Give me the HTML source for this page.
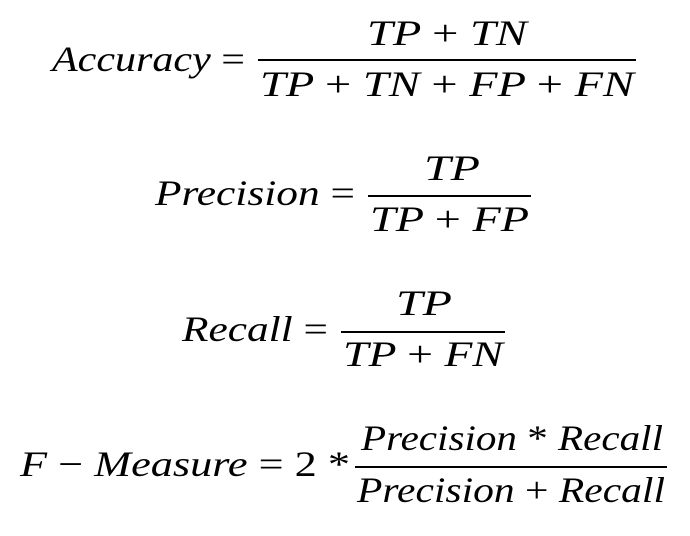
<!DOCTYPE html>
<html><head><meta charset="utf-8"><style>
html,body{margin:0;padding:0;background:#fff;width:690px;height:536px;overflow:hidden}
svg text{font-family:"Liberation Serif","Times New Roman","DejaVu Serif","Noto Serif CJK SC",serif;font-size:36px;font-style:italic;fill:#000}
.n{font-style:normal}
</style></head><body>
<svg width="690" height="536">
<g>
<text x="52" y="71" textLength="193" lengthAdjust="spacingAndGlyphs">Accuracy <tspan class="n">=</tspan></text>
<text x="367" y="45" textLength="160" lengthAdjust="spacingAndGlyphs">TP <tspan class="n">+</tspan> TN</text>
<rect x="258" y="59" width="378" height="2" fill="#000"/>
<text x="260" y="96" textLength="374" lengthAdjust="spacingAndGlyphs">TP <tspan class="n">+</tspan> TN <tspan class="n">+</tspan> FP <tspan class="n">+</tspan> FN</text>
</g>
<g>
<text x="155" y="205" textLength="200" lengthAdjust="spacingAndGlyphs">Precision <tspan class="n">=</tspan></text>
<text x="424" y="180" textLength="56" lengthAdjust="spacingAndGlyphs">TP</text>
<rect x="368" y="195" width="163" height="2" fill="#000"/>
<text x="370" y="231" textLength="159" lengthAdjust="spacingAndGlyphs">TP <tspan class="n">+</tspan> FP</text>
</g>
<g>
<text x="182" y="341" textLength="146" lengthAdjust="spacingAndGlyphs">Recall <tspan class="n">=</tspan></text>
<text x="396" y="315" textLength="56" lengthAdjust="spacingAndGlyphs">TP</text>
<rect x="341" y="331" width="164" height="2" fill="#000"/>
<text x="343" y="366" textLength="160" lengthAdjust="spacingAndGlyphs">TP <tspan class="n">+</tspan> FN</text>
</g>
<g>
<text x="20" y="476" textLength="330" lengthAdjust="spacingAndGlyphs">F <tspan class="n">−</tspan> Measure <tspan class="n">= 2 *</tspan></text>
<text x="361" y="450" textLength="302" lengthAdjust="spacingAndGlyphs">Precision <tspan class="n">*</tspan> Recall</text>
<rect x="355" y="466" width="312" height="2" fill="#000"/>
<text x="357" y="502" textLength="308" lengthAdjust="spacingAndGlyphs">Precision <tspan class="n">+</tspan> Recall</text>
</g>
</svg>
</body></html>
